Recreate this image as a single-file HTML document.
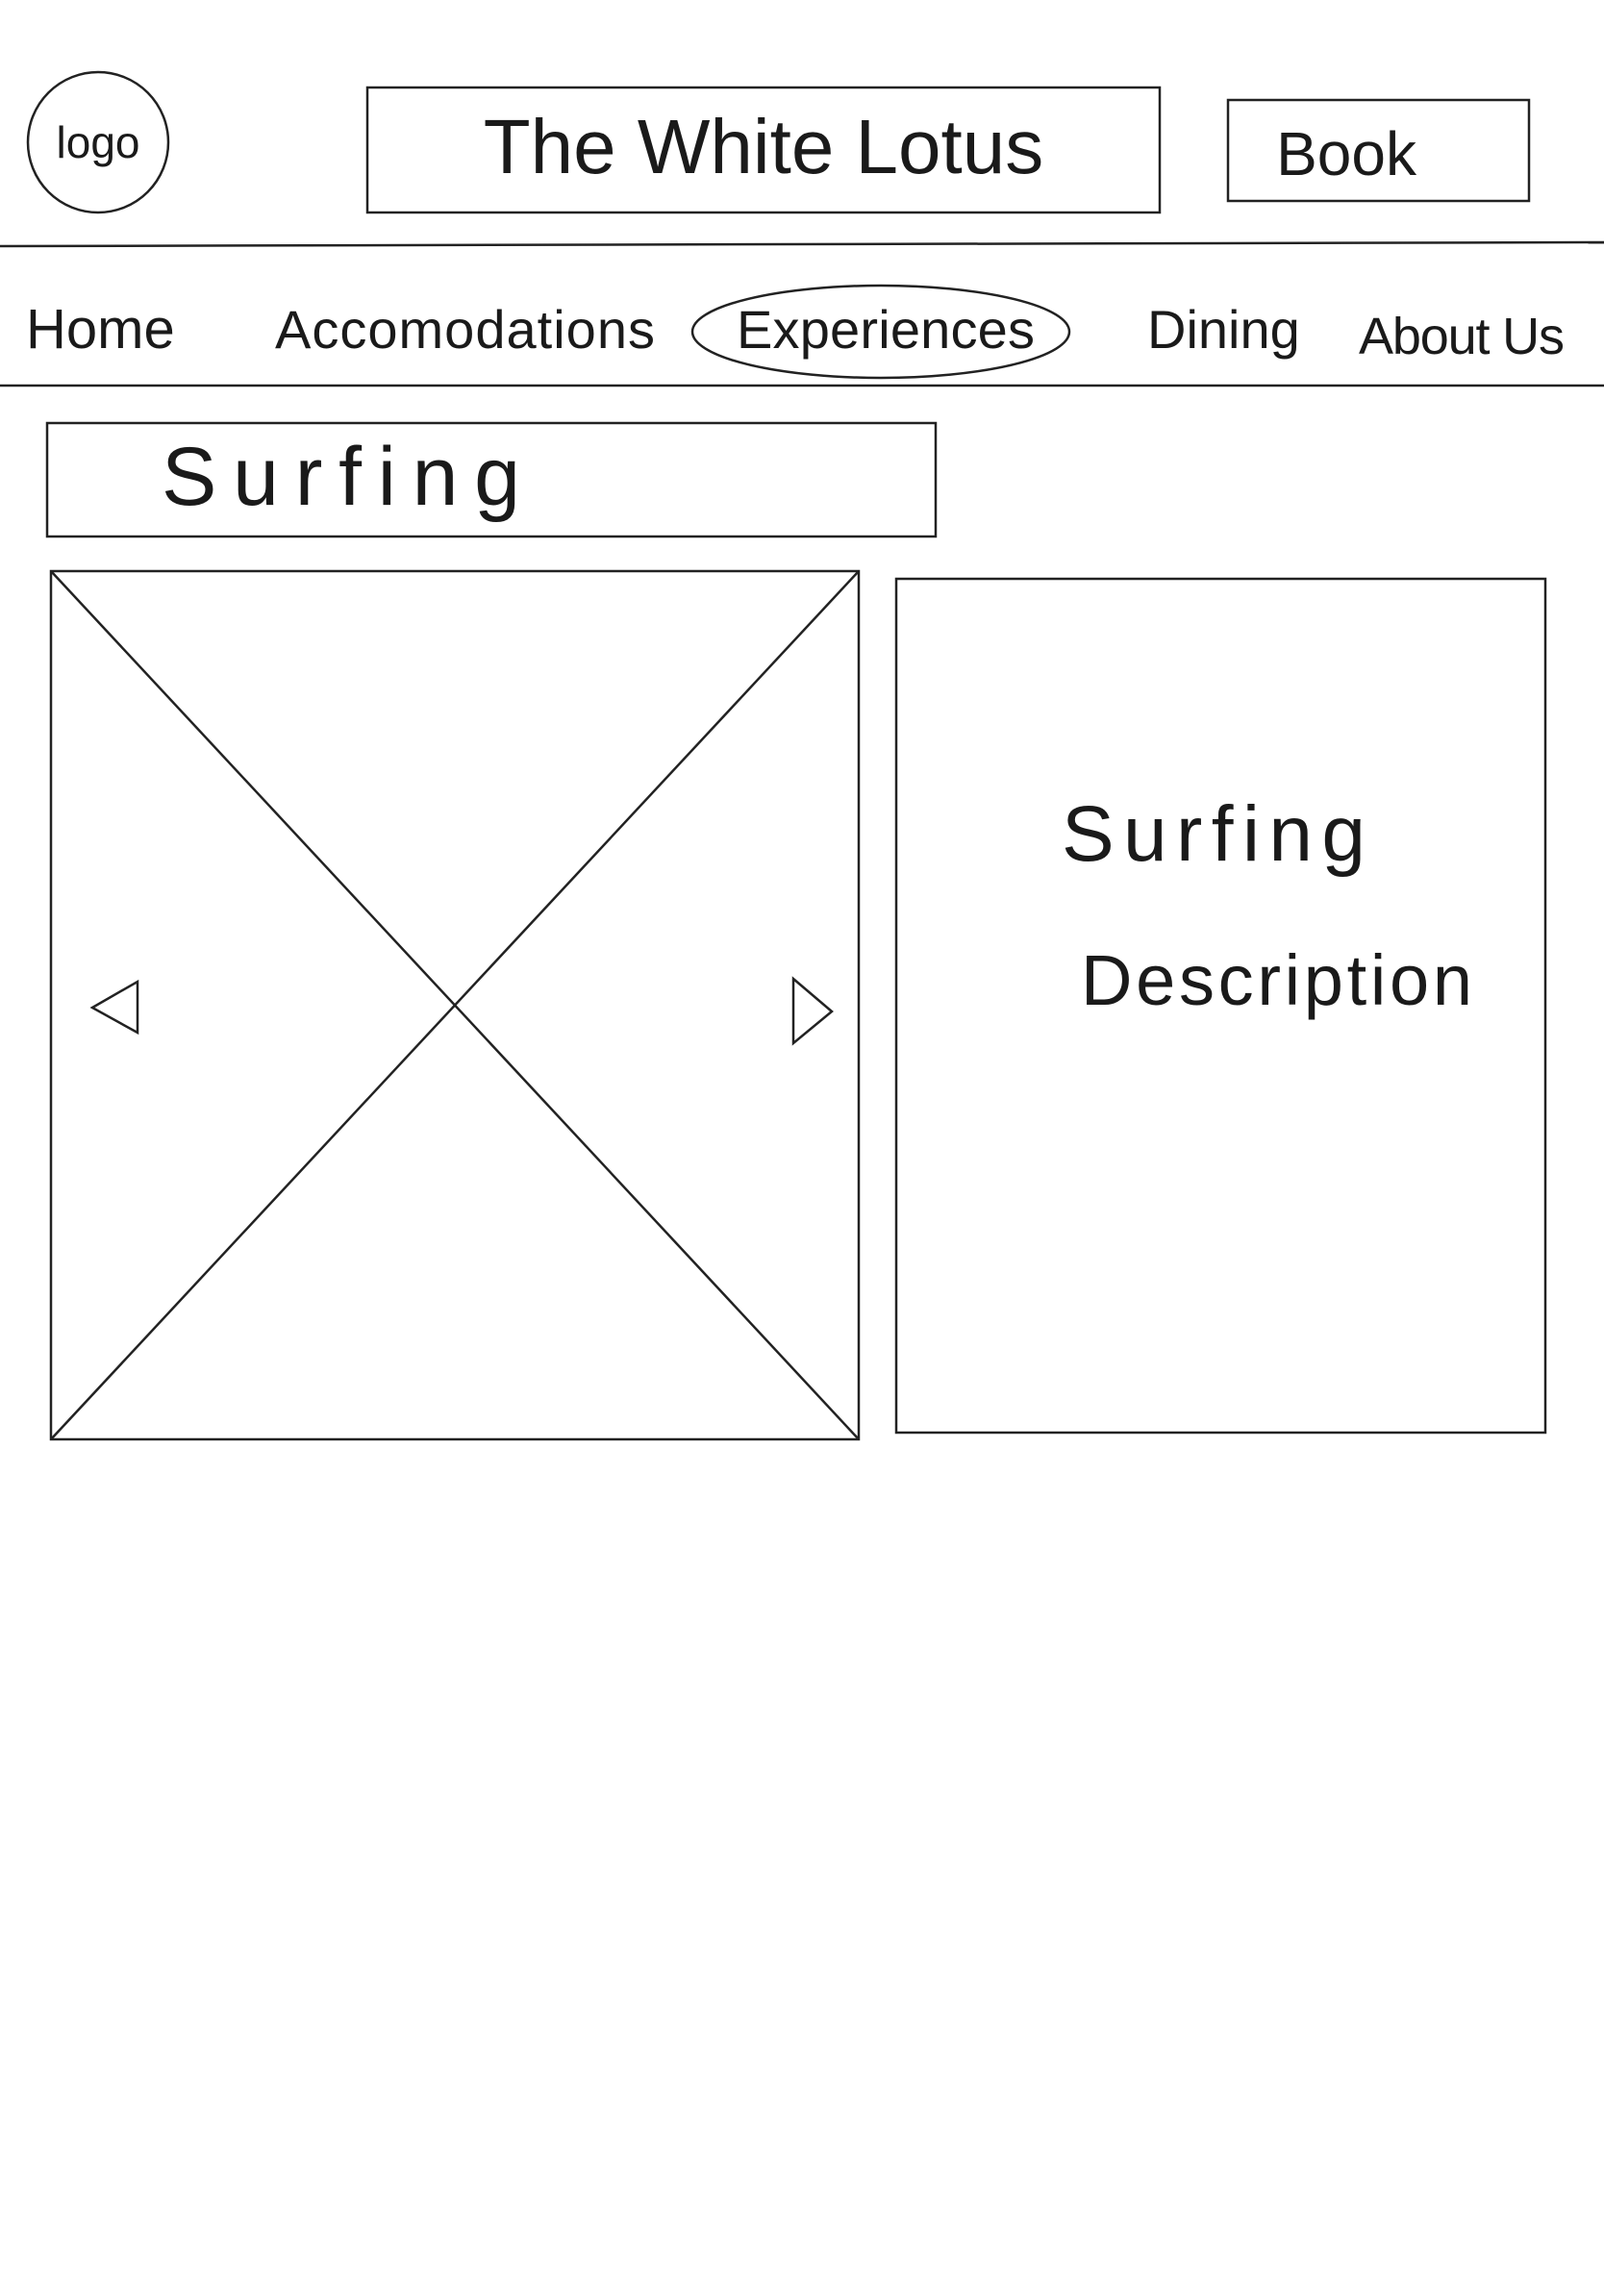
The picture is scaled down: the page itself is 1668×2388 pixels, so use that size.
<!DOCTYPE html>
<html>
<head>
<meta charset="utf-8">
<style>
html,body{margin:0;padding:0;background:#fff;}
svg{display:block;}
text{font-family:"Liberation Sans",sans-serif;fill:#1a1a1a;font-weight:normal;}
</style>
</head>
<body>
<svg width="1668" height="2388" viewBox="0 0 1668 2388" xmlns="http://www.w3.org/2000/svg">
  <g fill="none" stroke="#222" stroke-width="2.5">
    <circle cx="102" cy="148" r="73"/>
    <rect x="382" y="91" width="824" height="130"/>
    <rect x="1277" y="104" width="313" height="105"/>
    <line x1="0" y1="256" x2="1668" y2="252"/>
    <ellipse cx="916" cy="345" rx="196" ry="48"/>
    <line x1="0" y1="401" x2="1668" y2="401"/>
    <rect x="49" y="440" width="924" height="118"/>
    <rect x="53" y="594" width="840" height="903"/>
    <line x1="53" y1="594" x2="893" y2="1497"/>
    <line x1="893" y1="594" x2="53" y2="1497"/>
    <rect x="932" y="602" width="675" height="888"/>
    <polygon points="96,1048 143,1021 143,1074"/>
    <polygon points="825,1018 865,1052 825,1085"/>
  </g>
  <text x="102" y="164" font-size="46" text-anchor="middle">logo</text>
  <text x="794" y="180" font-size="80" text-anchor="middle">The White Lotus</text>
  <text x="1400" y="182" font-size="64" text-anchor="middle">Book</text>
  <text x="27" y="362" font-size="58">Home</text>
  <text x="286" y="362" font-size="56" textLength="395">Accomodations</text>
  <text x="766" y="362" font-size="56" textLength="310">Experiences</text>
  <text x="1193" y="362" font-size="56">Dining</text>
  <text x="1413" y="368" font-size="54" textLength="214">About Us</text>
  <text x="168" y="525" font-size="86" textLength="373">Surfing</text>
  <text x="1104" y="895" font-size="82" textLength="316">Surfing</text>
  <text x="1124" y="1045" font-size="74" textLength="407">Description</text>
</svg>
</body>
</html>
